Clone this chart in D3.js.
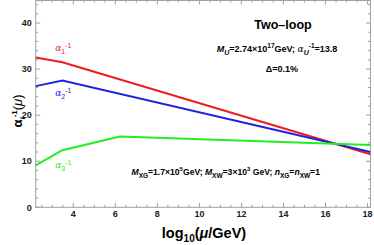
<!DOCTYPE html>
<html>
<head>
<meta charset="utf-8">
<script src="https://cdn.jsdelivr.net/npm/d3@7"></script>
<style>
  body { margin: 0; background: #fff; }
  svg { font-family: "Liberation Sans", Arial, sans-serif; font-weight: bold; }
</style>
</head>
<body>
<div id="chart"></div>
<script>
// chart values
var xDomain = [2.21, 18.14];
var yDomain = [0, 45];
var xTicks = [4, 6, 8, 10, 12, 14, 16, 18];
var yTicks = [0, 10, 20, 30, 40];

var logMu1 = [2.21, 3.48, 18.14];
var alpha1 = [32.5, 31.5, 11.5];
var logMu2 = [2.21, 3.48, 18.14];
var alpha2 = [26.3, 27.5, 12.0];
var logMu3 = [2.21, 3.48, 6.22, 18.14];
var alpha3 = [9.1, 12.4, 15.35, 13.5];

var margin = {top: 0, right: 3.5, bottom: 37.7, left: 35.7},
    width = 374 - margin.left - margin.right,
    height = 245 - margin.top - margin.bottom;

var x = d3.scaleLinear().domain(xDomain).range([0, width]);
var y = d3.scaleLinear().domain(yDomain).range([height, 0]);

var svg = d3.select("#chart").append("svg")
    .attr("width", 374).attr("height", 245)
  .append("g")
    .attr("transform", "translate(" + margin.left + "," + margin.top + ")");

// minor ticks every 0.5 on x, every 2 on y
var xMinor = d3.range(2.5, 18.2, 0.5).filter(function(d) { return xTicks.indexOf(d) < 0; });
var yMinor = d3.range(0, 45.1, 2).filter(function(d) { return yTicks.indexOf(d) < 0; });

var frameColor = "#a0a0a0";

function tickLines(vals, len, axis) {
    vals.forEach(function(v) {
        if (axis === "x") {
            svg.append("line").attr("x1", x(v)).attr("x2", x(v)).attr("y1", height).attr("y2", height - len)
                .attr("stroke", frameColor).attr("stroke-width", 1);
            svg.append("line").attr("x1", x(v)).attr("x2", x(v)).attr("y1", 0).attr("y2", len)
                .attr("stroke", frameColor).attr("stroke-width", 1);
        } else {
            svg.append("line").attr("y1", y(v)).attr("y2", y(v)).attr("x1", 0).attr("x2", len)
                .attr("stroke", frameColor).attr("stroke-width", 1);
            svg.append("line").attr("y1", y(v)).attr("y2", y(v)).attr("x1", width).attr("x2", width - len)
                .attr("stroke", frameColor).attr("stroke-width", 1);
        }
    });
}
tickLines(xTicks, 4.5, "x");
tickLines(xMinor, 2.5, "x");
tickLines(yTicks, 4.5, "y");
tickLines(yMinor, 2.5, "y");

// frame
svg.append("rect").attr("x", 0).attr("y", 0.5).attr("width", width).attr("height", height - 0.5)
    .attr("fill", "none").attr("stroke", frameColor).attr("stroke-width", 1);

// tick labels
svg.selectAll(".xl").data(xTicks).enter().append("text")
    .attr("x", function(d) { return x(d); }).attr("y", height + 10)
    .attr("text-anchor", "middle").attr("font-size", "9px").attr("fill", "#222")
    .text(function(d) { return d; });
svg.selectAll(".yl").data(yTicks).enter().append("text")
    .attr("x", -4).attr("y", function(d) { return y(d) + 3.2; })
    .attr("text-anchor", "end").attr("font-size", "9px").attr("fill", "#222")
    .text(function(d) { return d; });

// lines
var line = d3.line().x(function(d) { return x(d[0]); }).y(function(d) { return y(d[1]); });
var series = [
    {xs: logMu1, ys: alpha1, color: "#ee1c1c"},
    {xs: logMu2, ys: alpha2, color: "#2222dd"},
    {xs: logMu3, ys: alpha3, color: "#22ee22"}
];
var clip = svg.append("clipPath").attr("id", "clip").append("rect")
    .attr("width", width).attr("height", height);
series.forEach(function(s) {
    svg.append("path")
        .attr("d", line(d3.zip(s.xs, s.ys)))
        .attr("fill", "none").attr("stroke", s.color).attr("stroke-width", 2)
        .attr("clip-path", "url(#clip)");
});

// curve labels
function alphaLabel(px, py, idx, color) {
    var t = svg.append("text").attr("x", px).attr("y", py).attr("fill", color)
        .attr("font-size", "9px").attr("font-weight", "normal");
    t.append("tspan").attr("font-family", "'DejaVu Serif', serif").attr("font-style", "italic").text("α");
    t.append("tspan").attr("dy", 2.5).attr("font-size", "7px").text(idx);
    t.append("tspan").attr("dy", -6).attr("font-size", "7px").text("-1");
}
alphaLabel(19.5, 51, "1", "#ee1c1c");
alphaLabel(19.5, 96, "2", "#2222dd");
alphaLabel(19.5, 168, "3", "#22ee22");

// annotations
svg.append("text").attr("x", 283 - margin.left).attr("y", 29)
    .attr("text-anchor", "middle").attr("font-size", "12.5px").text("Two\u2013loop");

var t1 = svg.append("text").attr("x", 277 - margin.left).attr("y", 52)
    .attr("text-anchor", "middle").attr("font-size", "9px");
t1.append("tspan").attr("font-style", "italic").text("M");
t1.append("tspan").attr("dy", 2.5).attr("font-size", "7px").attr("font-style", "italic").text("U");
t1.append("tspan").attr("dy", -2.5).text("=2.74\u00d710");
t1.append("tspan").attr("dy", -4).attr("font-size", "6.5px").text("17");
t1.append("tspan").attr("dy", 4).text("GeV; ");
t1.append("tspan").attr("font-style", "italic").attr("font-family", "'DejaVu Serif', serif").attr("font-weight", "normal").text("α");
t1.append("tspan").attr("dy", 2.5).attr("font-size", "7px").attr("font-style", "italic").text("U");
t1.append("tspan").attr("dy", -7).attr("font-size", "6.5px").text("-1");
t1.append("tspan").attr("dy", 4.5).text("=13.8");

svg.append("text").attr("x", 282 - margin.left).attr("y", 72)
    .attr("text-anchor", "middle").attr("font-size", "9px").text("\u0394=0.1%");

var t2 = svg.append("text").attr("x", 131.5 - margin.left).attr("y", 175)
    .attr("font-size", "8.6px");
t2.append("tspan").attr("font-style", "italic").text("M");
t2.append("tspan").attr("dy", 2.5).attr("font-size", "6.5px").text("XG");
t2.append("tspan").attr("dy", -2.5).text("=1.7\u00d710");
t2.append("tspan").attr("dy", -4).attr("font-size", "6px").text("5");
t2.append("tspan").attr("dy", 4).text("GeV; ");
t2.append("tspan").attr("font-style", "italic").text("M");
t2.append("tspan").attr("dy", 2.5).attr("font-size", "6.5px").text("XW");
t2.append("tspan").attr("dy", -2.5).text("=3\u00d710");
t2.append("tspan").attr("dy", -4).attr("font-size", "6px").text("3");
t2.append("tspan").attr("dy", 4).text(" GeV; ");
t2.append("tspan").attr("font-style", "italic").text("n");
t2.append("tspan").attr("dy", 2.5).attr("font-size", "6.5px").text("XG");
t2.append("tspan").attr("dy", -2.5).text("=");
t2.append("tspan").attr("font-style", "italic").text("n");
t2.append("tspan").attr("dy", 2.5).attr("font-size", "6.5px").text("XW");
t2.append("tspan").attr("dy", -2.5).text("=1");

// axis titles
var xt = svg.append("text").attr("x", 204 - margin.left).attr("y", 238)
    .attr("text-anchor", "middle").attr("font-size", "14.5px");
xt.append("tspan").text("log");
xt.append("tspan").attr("dy", 3.5).attr("font-size", "10px").text("10");
xt.append("tspan").attr("dy", -3.5).text("(");
xt.append("tspan").attr("font-style", "italic").text("\u03bc");
xt.append("tspan").text("/GeV)");

var yt = svg.append("text").attr("transform", "translate(" + (22 - margin.left) + ",111) rotate(-90)")
    .attr("text-anchor", "middle").attr("font-size", "13px");
yt.append("tspan").text("\u03b1");
yt.append("tspan").attr("dy", 3).attr("font-size", "8px").attr("font-style", "italic").text("i");
yt.append("tspan").attr("dy", -8).attr("font-size", "8px").text("-1");
yt.append("tspan").attr("dy", 5).attr("font-weight", "normal").text("(");
yt.append("tspan").attr("font-style", "italic").attr("font-weight", "normal").text("\u03bc");
yt.append("tspan").attr("font-weight", "normal").text(")");
</script>
</body>
</html>
